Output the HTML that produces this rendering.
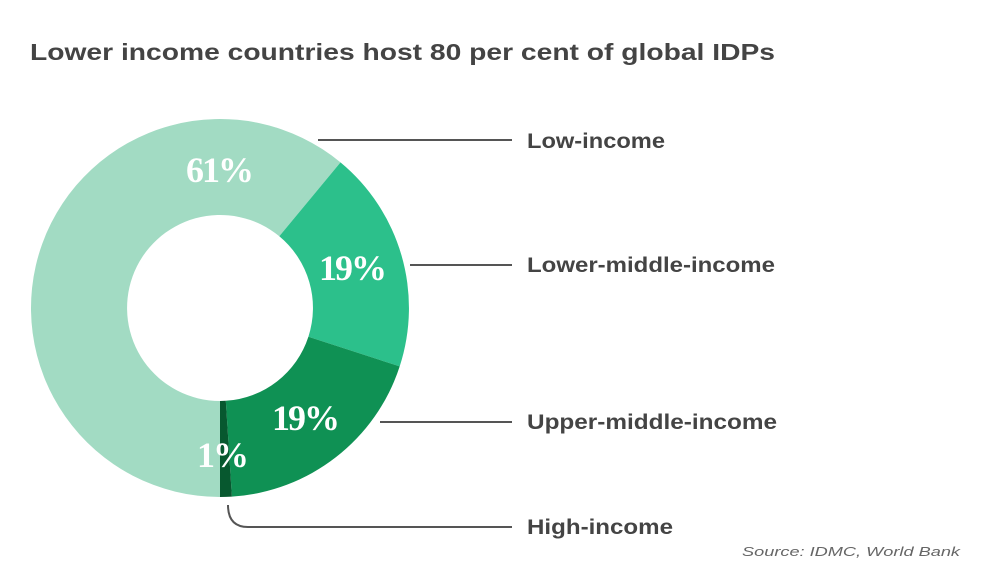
<!DOCTYPE html>
<html><head><meta charset="utf-8"><style>
body{margin:0;background:#fff;width:990px;height:573px;overflow:hidden}
</style></head><body>
<svg width="990" height="573" viewBox="0 0 990 573" xmlns="http://www.w3.org/2000/svg">
<text x="30" y="60" font-family="Liberation Sans, sans-serif" font-weight="bold" font-size="23" fill="#444" textLength="745" lengthAdjust="spacingAndGlyphs">Lower income countries host 80 per cent of global IDPs</text>
<path d="M220 497 A189 189 0 1 1 340.5 162.4 L279.3 236.3 A93 93 0 1 0 220 401 Z" fill="#a2dbc3"/>
<path d="M340.5 162.4 A189 189 0 0 1 399.7 366.4 L308.4 336.7 A93 93 0 0 0 279.3 236.3 Z" fill="#2cc08b"/>
<path d="M399.7 366.4 A189 189 0 0 1 231.9 496.6 L225.8 400.8 A93 93 0 0 0 308.4 336.7 Z" fill="#0f9154"/>
<path d="M231.9 496.6 A189 189 0 0 1 220 497 L220 401 A93 93 0 0 0 225.8 400.8 Z" fill="#07582f"/>
<g font-family="Liberation Serif, serif" font-weight="bold" font-size="36" fill="#fff" text-anchor="middle" letter-spacing="-2">
<text x="219" y="182">61%</text>
<text x="352" y="280">19%</text>
<text x="305" y="430">19%</text>
<text x="222" y="467">1%</text>
</g>
<g stroke="#555" stroke-width="2" fill="none">
<line x1="318" y1="140" x2="512" y2="140"/>
<line x1="410" y1="265" x2="512" y2="265"/>
<line x1="380" y1="422" x2="512" y2="422"/>
<path d="M228 505 Q228 527 248 527 L512 527"/>
</g>
<g font-family="Liberation Sans, sans-serif" font-weight="bold" font-size="21" fill="#444" lengthAdjust="spacingAndGlyphs">
<text x="527" y="148" textLength="138" lengthAdjust="spacingAndGlyphs">Low-income</text>
<text x="527" y="272" textLength="248" lengthAdjust="spacingAndGlyphs">Lower-middle-income</text>
<text x="527" y="429" textLength="250" lengthAdjust="spacingAndGlyphs">Upper-middle-income</text>
<text x="527" y="534" textLength="146" lengthAdjust="spacingAndGlyphs">High-income</text>
</g>
<text x="742" y="556" font-family="Liberation Sans, sans-serif" font-style="italic" font-size="13" fill="#666" textLength="218" lengthAdjust="spacingAndGlyphs">Source: IDMC, World Bank</text>
</svg>
</body></html>
